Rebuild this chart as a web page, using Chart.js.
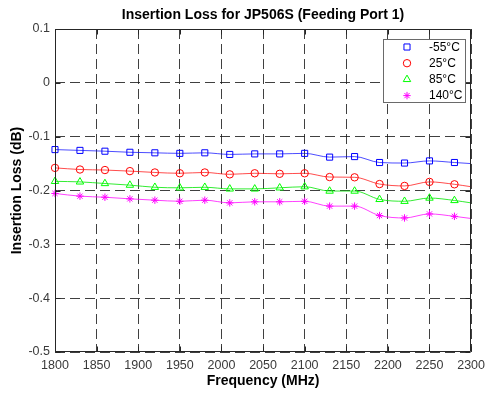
<!DOCTYPE html>
<html>
<head>
<meta charset="utf-8">
<script src="https://cdn.jsdelivr.net/npm/chart.js@4/dist/chart.umd.min.js"></script>
<style>
  html, body { margin: 0; padding: 0; background: #fff; }
  #wrap { width: 491px; height: 393px; }
</style>
</head>
<body>
<div id="wrap"><canvas id="c" width="491" height="393"></canvas></div>
<script>
// Measured frequencies (MHz); markers every 30 MHz, trace runs to 2300 MHz
const frequencies = [1800, 1830, 1860, 1890, 1920, 1950, 1980, 2010, 2040, 2070,
                     2100, 2130, 2160, 2190, 2220, 2250, 2280, 2300];

// Insertion loss (dB) per temperature
const lossMinus55 = [-0.124, -0.1255, -0.127, -0.129, -0.130, -0.131, -0.130, -0.133, -0.132, -0.132,
                     -0.131, -0.138, -0.137, -0.148, -0.149, -0.145, -0.148, -0.150];
const loss25      = [-0.158, -0.161, -0.162, -0.164, -0.1665, -0.168, -0.1665, -0.170, -0.168, -0.169,
                     -0.168, -0.175, -0.1755, -0.188, -0.1915, -0.184, -0.1885, -0.193];
const loss85      = [-0.183, -0.184, -0.187, -0.190, -0.194, -0.195, -0.194, -0.197, -0.197, -0.195,
                     -0.193, -0.201, -0.201, -0.2165, -0.220, -0.214, -0.2185, -0.223];
const loss140     = [-0.2055, -0.2105, -0.2125, -0.2155, -0.218, -0.220, -0.218, -0.223, -0.221, -0.221,
                     -0.220, -0.229, -0.229, -0.2465, -0.251, -0.2435, -0.248, -0.252];

const seriesLabels = ['-55°C', '25°C', '85°C', '140°C'];

// Axis ticks
const xTickValues = [1800, 1850, 1900, 1950, 2000, 2050, 2100, 2150, 2200, 2250, 2300];
const yTickValues = [-0.5, -0.4, -0.3, -0.2, -0.1, 0, 0.1];
const yTickLabels = ['-0.5', '-0.4', '-0.3', '-0.2', '-0.1', '0', '0.1'];

const chartTitle = 'Insertion Loss for JP506S (Feeding Port 1)';
const xAxisTitle = 'Frequency (MHz)';
const yAxisTitle = 'Insertion Loss (dB)';

const FONT = "'Liberation Sans', Arial, Helvetica, sans-serif";
const AXIS_COLOR = '#262626';
const TICK_LABEL_COLOR = '#3a3a3a';
const GRID_COLOR = 'rgba(30,30,30,0.85)';

function toPoints(values) {
  return values.map((v, i) => ({ x: frequencies[i], y: v }));
}

function makeDataset(label, values, color, lineColor, pointStyle, radius) {
  return {
    label: label,
    data: toPoints(values),
    borderColor: lineColor,
    backgroundColor: 'rgba(0,0,0,0)',
    borderWidth: 1,
    pointStyle: pointStyle,
    pointRadius: ctx => (ctx.dataIndex === frequencies.length - 1 ? 0 : radius),
    pointBorderColor: color,
    pointBackgroundColor: 'rgba(0,0,0,0)',
    pointBorderWidth: 1,
    pointHoverRadius: 0,
    markerRadius: radius,
    cubicInterpolationMode: 'monotone',
    fill: false,
    clip: false
  };
}

const datasets = [
  makeDataset(seriesLabels[0], lossMinus55, '#0000ff', 'rgba(0,0,255,0.7)', 'rect', 4.3),
  makeDataset(seriesLabels[1], loss25, '#ff0000', 'rgba(255,0,0,0.7)', 'circle', 3.7),
  makeDataset(seriesLabels[2], loss85, '#00ff00', 'rgba(0,230,0,0.8)', 'triangle', 4.3),
  makeDataset(seriesLabels[3], loss140, '#ff00ff', 'rgba(255,0,255,0.75)', 'star', 3.7)
];

function drawMarker(ctx, style, radius, x, y) {
  if (Chart.helpers && Chart.helpers.drawPoint) {
    Chart.helpers.drawPoint(ctx, { pointStyle: style, radius: radius, rotation: 0, borderWidth: 1 }, x, y);
    return;
  }
  ctx.beginPath();
  ctx.arc(x, y, radius, 0, Math.PI * 2);
  ctx.stroke();
}

// Box, inward ticks, title and legend in the style of a classic engineering plot
const framePlugin = {
  id: 'frame',
  afterDraw(chart) {
    const { ctx, chartArea: a, scales } = chart;
    const L = Math.round(a.left) + 0.5, R = Math.round(a.right) - 0.5;
    const T = Math.round(a.top) + 0.5, B = Math.round(a.bottom) - 0.5;
    const tick = 5;

    ctx.save();
    ctx.strokeStyle = AXIS_COLOR;
    ctx.lineWidth = 1;
    ctx.setLineDash([]);
    ctx.beginPath();
    ctx.rect(L, T, R - L, B - T);
    ctx.stroke();

    ctx.beginPath();
    scales.x.ticks.forEach(t => {
      const px = Math.round(scales.x.getPixelForValue(t.value)) + 0.5;
      ctx.moveTo(px, B); ctx.lineTo(px, B - tick);
      ctx.moveTo(px, T); ctx.lineTo(px, T + tick);
    });
    scales.y.ticks.forEach(t => {
      const py = Math.round(scales.y.getPixelForValue(t.value)) + 0.5;
      ctx.moveTo(L, py); ctx.lineTo(L + tick, py);
      ctx.moveTo(R, py); ctx.lineTo(R - tick, py);
    });
    ctx.stroke();

    // Title centred over the axes
    ctx.fillStyle = '#000';
    ctx.font = 'bold 14px ' + FONT;
    ctx.textAlign = 'center';
    ctx.textBaseline = 'middle';
    ctx.fillText(chartTitle, (a.left + a.right) / 2, 15.5);

    // Legend box in the upper right of the axes
    const bx = 383.5, by = 39.5, bw = 82, bh = 63;
    ctx.fillStyle = '#fff';
    ctx.fillRect(bx, by, bw, bh);
    ctx.strokeStyle = '#6a6a6a';
    ctx.strokeRect(bx, by, bw, bh);

    ctx.font = '12px ' + FONT;
    ctx.textAlign = 'left';
    ctx.textBaseline = 'middle';
    chart.data.datasets.forEach((ds, i) => {
      const y = 47 + i * 16.2;
      ctx.strokeStyle = ds.pointBorderColor;
      ctx.fillStyle = 'rgba(0,0,0,0)';
      ctx.lineWidth = 1;
      drawMarker(ctx, ds.pointStyle, ds.markerRadius, 407, y);
      ctx.fillStyle = '#000';
      ctx.fillText(ds.label, 429, y + 0.5);
    });
    ctx.restore();
  }
};

new Chart(document.getElementById('c'), {
  type: 'line',
  data: { datasets: datasets },
  options: {
    responsive: false,
    animation: false,
    devicePixelRatio: 1,
    events: [],
    layout: { padding: { left: 0, top: 29, right: 14, bottom: 0 } },
    plugins: {
      legend: { display: false },
      title: { display: false },
      tooltip: { enabled: false }
    },
    scales: {
      x: {
        type: 'linear',
        min: 1800,
        max: 2300,
        afterBuildTicks: s => { s.ticks = xTickValues.map(v => ({ value: v })); },
        afterFit: s => { s.height = 41; },
        ticks: {
          callback: v => String(v),
          color: TICK_LABEL_COLOR,
          font: { family: FONT, size: 12.5 },
          padding: 6,
          maxRotation: 0,
          autoSkip: false
        },
        grid: { color: GRID_COLOR, lineWidth: 1, drawTicks: false },
        border: { display: false, dash: [10, 5] },
        title: {
          display: true,
          text: xAxisTitle,
          color: '#000',
          font: { family: FONT, size: 14, weight: 'bold' },
          padding: { top: 0, bottom: 3 }
        }
      },
      y: {
        type: 'linear',
        min: -0.5,
        max: 0.1,
        afterBuildTicks: s => { s.ticks = yTickValues.map(v => ({ value: v })); },
        afterFit: s => { s.width = 55; },
        ticks: {
          callback: v => yTickLabels[yTickValues.findIndex(t => Math.abs(t - v) < 1e-9)],
          color: TICK_LABEL_COLOR,
          font: { family: FONT, size: 12.5 },
          padding: 5,
          autoSkip: false
        },
        grid: { color: GRID_COLOR, lineWidth: 1, drawTicks: false },
        border: { display: false, dash: [10, 5] },
        title: {
          display: true,
          text: yAxisTitle,
          color: '#000',
          font: { family: FONT, size: 14, weight: 'bold' },
          padding: { top: 9, bottom: 0 }
        }
      }
    }
  },
  plugins: [framePlugin]
});
</script>
</body>
</html>
